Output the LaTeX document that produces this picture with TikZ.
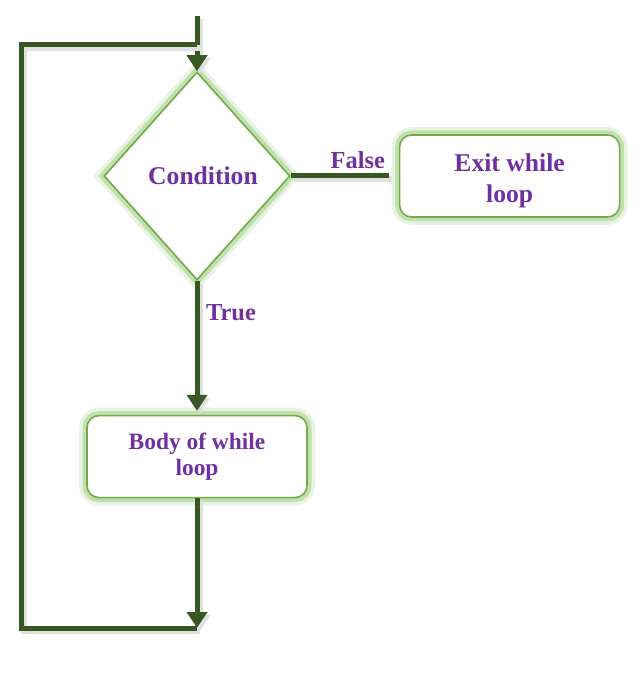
\documentclass[tikz,border=0pt]{standalone}
\usepackage{fontspec}
\setmainfont{Liberation Serif}
\usetikzlibrary{arrows.meta, positioning, shapes.geometric, calc}
\definecolor{flowgreen}{RGB}{56,87,35}
\definecolor{boxgreen}{RGB}{112,173,71}
\definecolor{glowgreen}{RGB}{169,209,142}
\definecolor{txtpurple}{RGB}{112,48,160}
\tikzset{
    glow/.style={
      preaction={draw=glowgreen, line width=8pt, opacity=0.25},
      preaction={draw=glowgreen, line width=4.5pt, opacity=0.6}},
    decision/.style={diamond, draw=boxgreen, line width=0.8pt, fill=white, glow,
      minimum width=93pt, minimum height=104pt, inner sep=0pt,
      text=txtpurple, font=\bfseries\fontsize{12.8}{15}\selectfont},
    block/.style={rectangle, rounded corners=6pt, draw=boxgreen, line width=0.8pt,
      fill=white, glow, minimum width=110pt, minimum height=41pt, align=center,
      text=txtpurple, font=\bfseries\fontsize{12.8}{15.5}\selectfont},
    lbl/.style={text=txtpurple, font=\bfseries\fontsize{12.2}{14}\selectfont},
    line/.style={draw=flowgreen, line width=2.5pt,
      preaction={draw=black!12, line width=3pt, transform canvas={shift={(1.5pt,-1.5pt)}}}},
    flow/.style={line, -{Triangle[width=10pt,length=8pt]}},
}
\begin{document}
\begin{tikzpicture}[x=0.5pt, y=-0.5pt]
    \tikzset{
      node distance=54pt,
    }
    \useasboundingbox (0,0) rectangle (643,683);

    \node[decision] (cond) at (197,176) {\hspace*{6pt}Condition};
    \node[block, right=of cond] (exit) {\rule{0pt}{14pt}Exit while\\loop};
    \node[block, below=67pt of cond, font=\bfseries\fontsize{11.7}{13}\selectfont] (body) {Body of while\\loop};

    \coordinate (start) at (197,16);
    \coordinate (tr) at (197,45);
    \coordinate (tl) at (21,45);
    \coordinate (bl) at (21,628);
    \coordinate (br) at (197,628);

    \draw[flow] (start) -- (cond.north);
    \draw[line, shorten >=5pt] (cond.east) -- node[lbl, above=-1pt, pos=0.62]{False} (exit.west);
    \draw[flow, shorten >=2pt] (cond.south) -- node[lbl, right, pos=0.24]{True} (body.north);
    \draw[flow] (body.south) -- (br);
    \draw[line] (br) -- (bl) -- (tl) -- (tr);
\end{tikzpicture}
\end{document}
